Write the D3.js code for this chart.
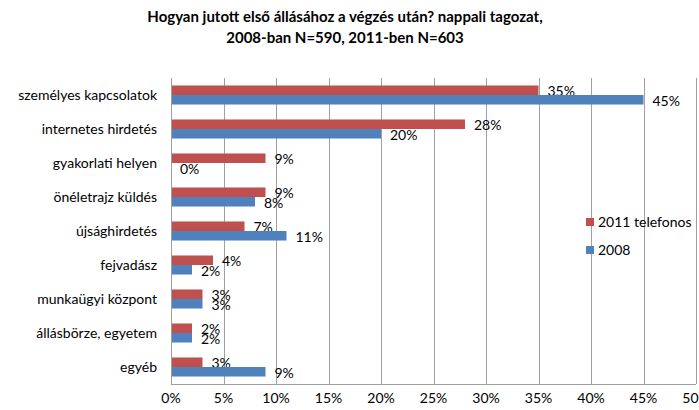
<!DOCTYPE html>
<meta charset="utf-8">
<style>
body { margin: 0; background: #fff; }
text { font-family: Lato, "Open Sans", sans-serif; fill: #000; }
.title { font-weight: bold; font-size: 15px; }
.grid line { stroke: #a0a0a0; stroke-width: 1; }
.lbl { font-size: 14px; }
</style>
<body>
<script src="https://d3js.org/d3.v7.min.js"></script>
<script>

var categories = ["személyes kapcsolatok", "internetes hirdetés", "gyakorlati helyen",
  "önéletrajz küldés", "újsághirdetés", "fejvadász", "munkaügyi központ",
  "állásbörze, egyetem", "egyéb"];
var values2011 = [35, 28, 9, 9, 7, 4, 3, 2, 3];
var values2008 = [45, 20, 0, 8, 11, 2, 3, 2, 9];
var seriesNames = ["2011 telefonos", "2008"];
var colors = ["#c0504d", "#4f81bd"];
var ticks = [0, 5, 10, 15, 20, 25, 30, 35, 40, 45, 50];
var titleLines = ["Hogyan jutott első állásához a végzés után? nappali tagozat,",
  "2008-ban N=590, 2011-ben N=603"];

var width = 699, height = 410;
var svg = d3.select("body").append("svg")
    .attr("width", width)
    .attr("height", height);

var x = d3.scaleLinear().domain([0, 50]).range([171, 696]);
var y = d3.scaleBand().domain(categories).range([78, 384]).paddingInner(0.44).paddingOuter(0.22);
var half = y.bandwidth() / 2;

// title
svg.selectAll(".title").data(titleLines).enter().append("text")
    .attr("class", "title")
    .attr("x", 345)
    .attr("y", function(d, i) { return 22 + i * 21; })
    .attr("text-anchor", "middle")
    .text(function(d) { return d; });

// gridlines
var grid = svg.append("g").attr("class", "grid");
grid.selectAll("line").data(ticks).enter().append("line")
    .attr("x1", function(d) { return Math.round(x(d)) + 0.5; })
    .attr("x2", function(d) { return Math.round(x(d)) + 0.5; })
    .attr("y1", 78)
    .attr("y2", 384);
grid.append("line")
    .attr("x1", x(0)).attr("x2", x(50))
    .attr("y1", 384.5).attr("y2", 384.5);

// tick labels
svg.selectAll(".tick-lbl").data(ticks).enter().append("text")
    .attr("class", "lbl")
    .attr("x", function(d) { return x(d); })
    .attr("y", 403)
    .attr("text-anchor", "middle")
    .text(function(d) { return d + "%"; });

// category labels
svg.selectAll(".cat").data(categories).enter().append("text")
    .attr("class", "lbl")
    .attr("x", 157)
    .attr("y", function(d) { return y(d) + half + 5; })
    .attr("text-anchor", "end")
    .text(function(d) { return d; });

var series = [values2011, values2008];
series.forEach(function(vals, s) {
  var g = svg.append("g");
  g.selectAll("rect").data(vals).enter().append("rect")
      .attr("x", x(0) + 1)
      .attr("y", function(d, i) { return y(categories[i]) + s * half; })
      .attr("width", function(d) { return Math.max(0, x(d) - x(0) - 1); })
      .attr("height", half)
      .attr("fill", colors[s]);
  g.selectAll("text").data(vals).enter().append("text")
      .attr("class", "lbl")
      .attr("x", function(d) { return x(d) + 9; })
      .attr("y", function(d, i) { return y(categories[i]) + s * half + half / 2 + 6; })
      .text(function(d) { return d + "%"; });
});

// legend
var legend = svg.selectAll(".legend").data(seriesNames).enter().append("g")
    .attr("transform", function(d, i) { return "translate(586," + (218 + i * 28) + ")"; });
legend.append("rect")
    .attr("width", 8).attr("height", 8)
    .attr("fill", function(d, i) { return colors[i]; });
legend.append("text")
    .attr("class", "lbl")
    .attr("x", 12)
    .attr("y", 9)
    .text(function(d) { return d; });

</script>
